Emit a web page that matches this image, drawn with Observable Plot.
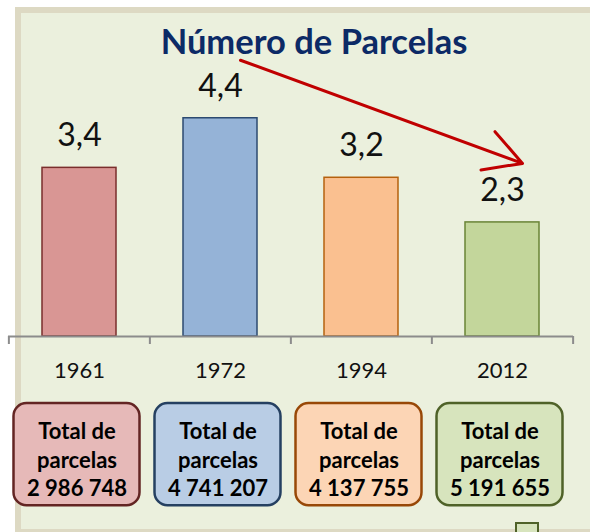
<!DOCTYPE html>
<html>
<head>
<meta charset="utf-8">
<script src="https://cdn.jsdelivr.net/npm/d3@7"></script>
<script src="https://cdn.jsdelivr.net/npm/@observablehq/plot@0.6"></script>
<style>
  html, body { margin: 0; padding: 0; background: #ffffff; overflow: hidden; width: 590px; height: 532px; }
  #panel { position: absolute; left: 15px; top: 7px; width: 620px; height: 528px; box-sizing: border-box;
           border: 6px solid #ddd9c3; background: #ebf0dd; }
  #title { position: absolute; left: 114px; width: 400px; top: 24px; text-align: center;
           font-family: Lato, sans-serif; font-weight: bold; font-size: 34.5px; line-height: 33px; color: #0c2a66; }
  #chart { position: absolute; left: 0; top: 0; }
  #stub { position: absolute; left: 515px; top: 522px; width: 24px; height: 20px; box-sizing: border-box;
          background: #d7e4bd; border: 2px solid #4f6228; }
</style>
</head>
<body>
<div id="panel"></div>
<div id="chart"></div>
<div id="title">Número de Parcelas</div>
<div id="stub"></div>
<script>
// ---- data ----
const years = ["1961", "1972", "1994", "2012"];
const parcelsPerHolding = [3.4, 4.4, 3.2, 2.3];
const totalParcels = [2986748, 4741207, 4137755, 5191655];

// ---- palettes ----
const barFill = {"1961": "#d99694", "1972": "#95b3d7", "1994": "#fac090", "2012": "#c3d69b"};
const barStroke = {"1961": "#7a2e2c", "1972": "#2c4a70", "1994": "#b5610e", "2012": "#6a8436"};
const boxFill = {"1961": "#e6b9b8", "1972": "#b9cde5", "1994": "#fcd5b5", "2012": "#d7e4bd"};
const boxStroke = {"1961": "#632523", "1972": "#254061", "1994": "#984807", "2012": "#4f6228"};

const data = years.map((year, i) => ({year, value: parcelsPerHolding[i], total: totalParcels[i]}));

const pt = d3.formatLocale({decimal: ",", thousands: " ", grouping: [3], currency: ["", " €"]});
const fmtVal = pt.format(".1f");
const fmtTot = pt.format(",d");

const W = 590, H = 532, ML = 8, MR = 17;
const step = (W - ML - MR) / years.length;

const chart = Plot.plot({
  width: W,
  height: H,
  marginLeft: ML,
  marginRight: MR,
  marginTop: 88,
  marginBottom: 196,
  style: {background: "transparent", fontFamily: "Lato, sans-serif", overflow: "visible"},
  x: {domain: years, paddingInner: 0.476, paddingOuter: 0.238, axis: null},
  y: {domain: [0, 5], axis: null},
  marks: [
    // bars
    Plot.barY(data, {x: "year", y: "value", fill: d => barFill[d.year], stroke: d => barStroke[d.year], strokeWidth: 1.5}),
    // category axis line and boundary ticks
    Plot.ruleY([0], {stroke: "#8c8c8c", strokeWidth: 2}),
    Plot.ruleX(years, {x: d => d, y1: 0, y2: 0, insetBottom: -8, dx: -step / 2, stroke: "#8c8c8c", strokeWidth: 2}),
    Plot.ruleX(years.slice(-1), {x: d => d, y1: 0, y2: 0, insetBottom: -8, dx: step / 2, stroke: "#8c8c8c", strokeWidth: 2}),
    Plot.axisX({tickSize: 0, tickPadding: 26, fontSize: 22, fill: "#111", fontFamily: "Lato, sans-serif"}),
    // value labels
    Plot.text(data, {x: "year", y: "value", text: d => fmtVal(d.value), dy: -32, fontSize: 32, fill: "#111", fontFamily: "Lato, sans-serif"}),
    // total boxes
    Plot.barY(data, {x: "year", y1: -1.35, y2: -3.41, dx: -2.5, insetLeft: -26, insetRight: -26, rx: 13,
      fill: d => boxFill[d.year], stroke: d => boxStroke[d.year], strokeWidth: 2.5}),
    Plot.text(data, {x: "year", y: -2.46, dx: -2.5, text: d => `Total de\nparcelas\n${fmtTot(d.total)}`,
      lineHeight: 1.3, fontSize: 22, fontWeight: "bold", fill: "#000", fontFamily: "Lato, sans-serif"}),
    // trend arrow
    Plot.arrow([{from: "1972", to: "2012"}], {x1: "from", x2: "to", y1: 5.57, y2: 3.49, dx: 20,
      stroke: "#c00000", strokeWidth: 3, headLength: 21, headAngle: 58, bend: 0})
  ]
});
document.getElementById("chart").appendChild(chart);
</script>
</body>
</html>
